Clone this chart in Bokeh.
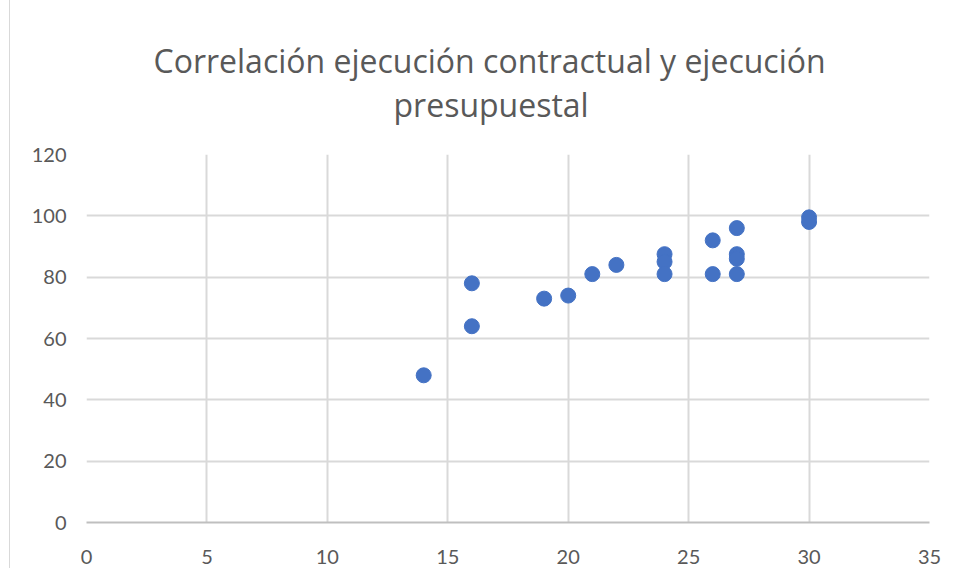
from bokeh.plotting import figure
from bokeh.models import Range1d, FixedTicker, Title
from bokeh.embed import file_html
from bokeh.resources import INLINE

# data
ejec_contractual = [14, 16, 16, 19, 20, 21, 22, 24, 24, 24, 26, 26, 27, 27, 27, 27, 30, 30]
ejec_presupuestal = [48, 78, 64, 73, 74, 81, 84, 87.5, 85, 81, 92, 81, 96, 87.5, 86, 81, 99.5, 98]
x_ticks = [0, 5, 10, 15, 20, 25, 30, 35]
y_ticks = [0, 20, 40, 60, 80, 100, 120]
title_lines = ["Correlación ejecución contractual y ejecución", "presupuestal"]

FONT = "Lato"
TFONT = "Open Sans"
GRAY = "#595959"

p = figure(width=940, height=568, output_backend="svg", toolbar_location=None,
           x_range=Range1d(0, 35), y_range=Range1d(0, 120),
           min_border_left=76, min_border_right=21, min_border_top=154, min_border_bottom=46)
p.styles = {"margin-left": "9px", "border-left": "1px solid #d9d9d9"}
p.outline_line_color = None

p.xaxis.ticker = FixedTicker(ticks=x_ticks)
p.yaxis.ticker = FixedTicker(ticks=y_ticks)
for ax in (p.xaxis[0], p.yaxis[0]):
    ax.major_tick_line_color = None
    ax.minor_tick_line_color = None
    ax.major_label_text_font = FONT
    ax.major_label_text_font_size = "20px"
    ax.major_label_text_color = GRAY
p.xaxis.axis_line_color = "#bfbfbf"
p.xaxis.axis_line_width = 2
p.yaxis.axis_line_color = None
p.xaxis.major_label_standoff = 21
p.yaxis.major_label_standoff = 14

p.xgrid.grid_line_color = "#d9d9d9"
p.ygrid.grid_line_color = "#d9d9d9"
p.xgrid.grid_line_width = 2
p.ygrid.grid_line_width = 2

p.scatter(ejec_contractual, ejec_presupuestal, size=15, color="#4472C4", line_color="#4472C4")

p.add_layout(Title(text=title_lines[1], align="left", offset=307, standoff=57,
                   text_font=TFONT, text_font_size="32px", text_color=GRAY,
                   text_font_style="normal"), "above")
p.add_layout(Title(text=title_lines[0], align="left", offset=67, standoff=-59,
                   text_font=TFONT, text_font_size="32px", text_color=GRAY,
                   text_font_style="normal"), "above")

open("out.html", "w").write(file_html(p, INLINE))
